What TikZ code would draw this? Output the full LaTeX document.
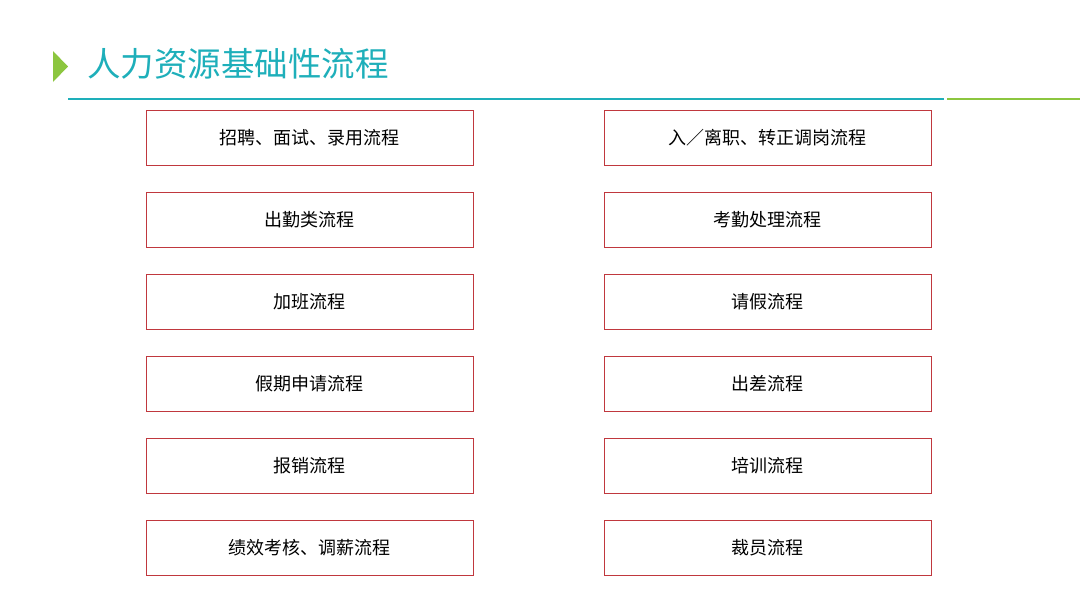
\documentclass[tikz,border=0pt]{standalone}
\usepackage{fontspec}
\usepackage{xcolor}
\usepackage{tikz}
\usetikzlibrary{positioning}
\setmainfont{Noto Sans CJK SC}
\newfontfamily\cjk{Noto Sans CJK SC}

\definecolor{titleteal}{HTML}{1EAFBA}
\definecolor{leafgreen}{HTML}{8CC63F}
\definecolor{boxred}{HTML}{C0383E}

\tikzset{
  procbox/.style={draw=boxred, line width=1pt, minimum width=327pt, minimum height=55pt,
    inner sep=0pt, font=\cjk\fontsize{18}{21}\selectfont},
}

\begin{document}
\begin{tikzpicture}[x=1pt, y=-1pt]
\useasboundingbox[fill=white] (0,0) rectangle (1080,608);
% title
\fill[leafgreen] (53,51) -- (68,66.5) -- (53,82) -- cycle;
\draw (87,64) node[anchor=west, text=titleteal, inner sep=0pt, font=\cjk\fontsize{33.5}{38}\selectfont] (title) {人力资源基础性流程};
\draw[titleteal, line width=1.5pt] (68,99) coordinate (l0) -- (944,99) coordinate (l1);
\draw[leafgreen, line width=1.5pt] (947,99) coordinate (g0) -- (1080,99) coordinate (g1);

% left column
\draw (309.5,137.5) node[procbox] (p1) {招聘、面试、录用流程};
\draw (309.5,219.5) node[procbox] (p2) {出勤类流程};
\draw (309.5,301.5) node[procbox] (p3) {加班流程};
\draw (309.5,383.5) node[procbox] (p4) {假期申请流程};
\draw (309.5,465.5) node[procbox] (p5) {报销流程};
\draw (309.5,547.5) node[procbox] (p6) {绩效考核、调薪流程};

% right column
\draw (767.5,137.5) node[procbox] (q1) {入／离职、转正调岗流程};
\draw (767.5,219.5) node[procbox] (q2) {考勤处理流程};
\draw (767.5,301.5) node[procbox] (q3) {请假流程};
\draw (767.5,383.5) node[procbox] (q4) {出差流程};
\draw (767.5,465.5) node[procbox] (q5) {培训流程};
\draw (767.5,547.5) node[procbox] (q6) {裁员流程};
\end{tikzpicture}
\end{document}
